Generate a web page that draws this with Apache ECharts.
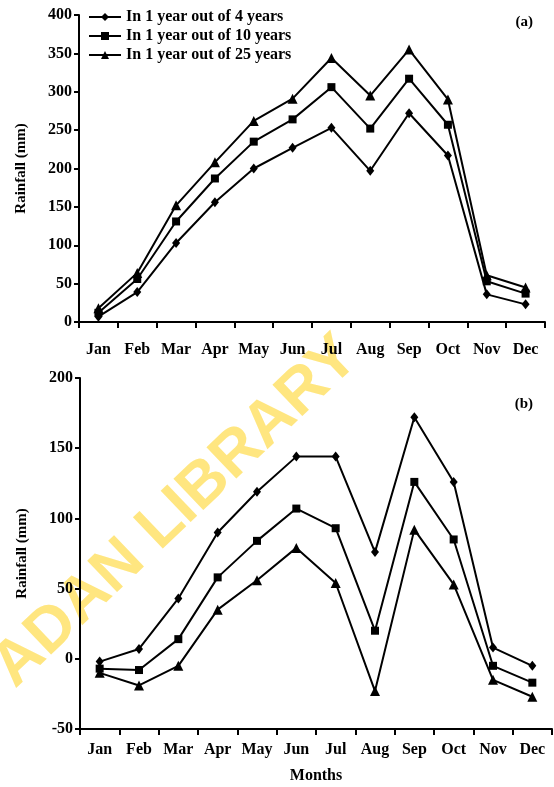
<!DOCTYPE html>
<html>
<head>
<meta charset="utf-8">
<script src="https://cdn.jsdelivr.net/npm/echarts@6/dist/echarts.min.js"></script>
<style>
  html, body { margin: 0; padding: 0; background: #fff; }
  #chart { width: 554px; height: 787px; }
</style>
</head>
<body>
<div id="chart"></div>
<script>
// Data
const months = ["Jan", "Feb", "Mar", "Apr", "May", "Jun", "Jul", "Aug", "Sep", "Oct", "Nov", "Dec"];
const seriesNames = ["In 1 year out of 4 years", "In 1 year out of 10 years", "In 1 year out of 25 years"];

// (a) rainfall
const rain4 = [7, 39, 103, 156, 200, 227, 253, 197, 272, 217, 36, 23];
const rain10 = [12, 56, 131, 187, 235, 264, 306, 252, 317, 257, 53, 37];
const rain25 = [18, 64, 152, 208, 262, 291, 344, 295, 355, 290, 61, 45];

// (b)
const b4 = [-2, 7, 43, 90, 119, 144, 144, 76, 172, 126, 8, -5];
const b10 = [-7, -8, 14, 58, 84, 107, 93, 20, 126, 85, -5, -17];
const b25 = [-10, -19, -5, 35, 56, 79, 54, -23, 92, 53, -15, -27];

const symbols = ["diamond", "rect", "triangle"];
const symbolSizes = [[8, 10], 8, 10];

const FONT = "Liberation Serif";
const chart = echarts.init(document.getElementById("chart"));

function xAx(gridIndex, margin, name) {
    return {
        type: "category",
        gridIndex: gridIndex,
        data: months,
        boundaryGap: true,
        name: name || "",
        nameLocation: "middle",
        nameGap: 39,
        nameTextStyle: { color: "#000", fontFamily: FONT, fontSize: 16, fontWeight: "bold" },
        axisLine: { onZero: false, lineStyle: { color: "#000", width: 2 } },
        axisTick: { show: true, length: 6, inside: false, alignWithLabel: false, lineStyle: { color: "#000", width: 2 } },
        axisLabel: { color: "#000", fontFamily: FONT, fontSize: 16, fontWeight: "bold", margin: margin, interval: 0 },
        splitLine: { show: false }
    };
}

function yAx(gridIndex, min, max) {
    return {
        type: "value",
        gridIndex: gridIndex,
        min: min,
        max: max,
        interval: 50,
        name: "Rainfall (mm)",
        nameLocation: "middle",
        nameGap: 50,
        nameTextStyle: { color: "#000", fontFamily: FONT, fontSize: 15, fontWeight: "bold" },
        axisLine: { show: true, lineStyle: { color: "#000", width: 2 } },
        axisTick: { show: true, length: 5, lineStyle: { color: "#000", width: 2 } },
        axisLabel: { color: "#000", fontFamily: FONT, fontSize: 16, fontWeight: "bold", margin: 7 },
        splitLine: { show: false }
    };
}

function line(i, data, gridIndex) {
    return {
        name: seriesNames[i],
        type: "line",
        xAxisIndex: gridIndex,
        yAxisIndex: gridIndex,
        data: data,
        symbol: symbols[i],
        symbolSize: symbolSizes[i],
        showAllSymbol: true,
        lineStyle: { color: "#000", width: 2 },
        itemStyle: { color: "#000" },
        animation: false
    };
}

chart.setOption({
    animation: false,
    backgroundColor: "#fff",
    title: [
        { text: "(a)", right: 16, top: 10, textStyle: { fontFamily: FONT, fontSize: 15, fontWeight: "bold", color: "#000" } },
        { text: "(b)", right: 16, top: 392, textStyle: { fontFamily: FONT, fontSize: 15, fontWeight: "bold", color: "#000" } }
    ],
    graphic: [{
        type: "text",
        x: 176,
        y: 512,
        rotation: 0.76,
        z: -10,
        silent: true,
        style: {
            text: "ADAN LIBRARY",
            fill: "#ffe680",
            font: "bold 63px 'Liberation Sans'",
            align: "center",
            verticalAlign: "middle"
        }
    }],
    legend: {
        orient: "vertical",
        left: 83,
        top: 4,
        itemWidth: 32,
        itemHeight: 10,
        itemGap: 3,
        data: seriesNames,
        textStyle: { color: "#000", fontFamily: FONT, fontSize: 16, fontWeight: "bold" }
    },
    grid: [
        { left: 79, right: 9, top: 15, bottom: 465 },
        { left: 80, right: 2, top: 378, bottom: 58 }
    ],
    xAxis: [xAx(0, 20), xAx(1, 13, "Months")],
    yAxis: [yAx(0, 0, 400), yAx(1, -50, 200)],
    series: [
        line(0, rain4, 0), line(1, rain10, 0), line(2, rain25, 0),
        line(0, b4, 1), line(1, b10, 1), line(2, b25, 1)
    ]
});

window.addEventListener("resize", () => chart.resize());
</script>
</body>
</html>
